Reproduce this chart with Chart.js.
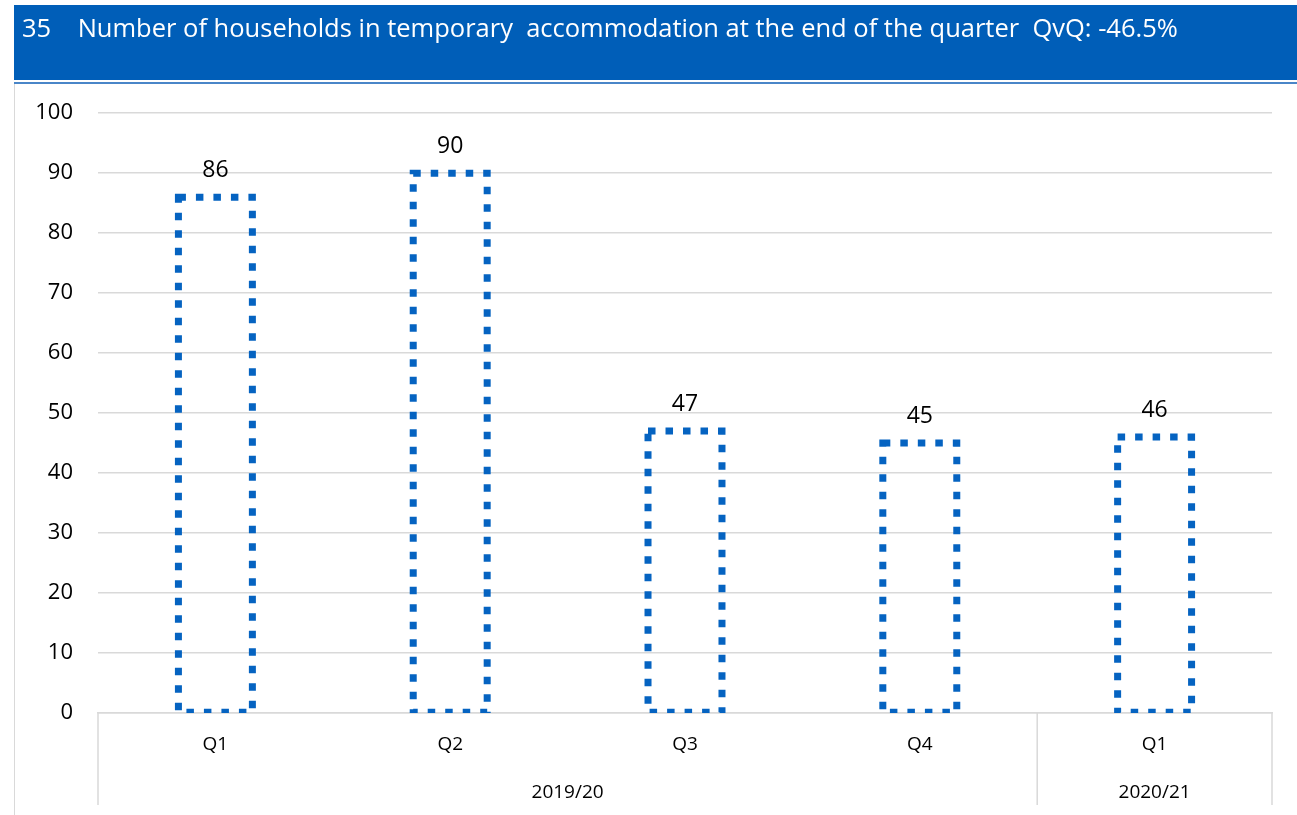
<!DOCTYPE html>
<html>
<head>
<meta charset="utf-8">
<script src="https://cdn.jsdelivr.net/npm/chart.js@4/dist/chart.umd.min.js"></script>
<style>
  body { margin: 0; background: #fff; font-family: "Open Sans", sans-serif; }
  #head { position: absolute; left: 14px; top: 5px; width: 1283px; height: 75px; background: #005eb8;
          border-bottom: 2px solid #fff; box-shadow: 0 2px 0 #4a86c8; z-index: 2; }
  #head span { position: absolute; left: 8px; top: 5px; color: #fff; font-size: 25.5px; white-space: pre; }
  #edge { position: absolute; left: 14px; top: 84px; width: 0; height: 731px; border-left: 1px solid #d9d9d9; }
  #wrap { position: absolute; left: 15px; top: 75px; width: 1282px; height: 740px; }
</style>
</head>
<body>
<div id="head"><span>35    Number of households in temporary  accommodation at the end of the quarter  QvQ: -46.5%</span></div>
<div id="edge"></div>
<div id="wrap"><canvas id="canvas"></canvas></div>
<script>
    var quarters = ["Q1", "Q2", "Q3", "Q4", "Q1"];
    var households = [86, 90, 47, 45, 46];
    var years = ["2019/20", "2020/21"];
    var yearSpans = [4, 1];
    var yTicks = [0, 10, 20, 30, 40, 50, 60, 70, 80, 90, 100];

    var blue = '#0563c1';
    var grey = '#d9d9d9';

    // dotted outline of each bar + value on top
    var dottedBars = {
        id: 'dottedBars',
        afterDatasetsDraw: function(chart) {
            var ctx = chart.ctx, area = chart.chartArea;
            var meta = chart.getDatasetMeta(0);
            ctx.save();
            ctx.beginPath();
            ctx.rect(area.left, 0, area.right - area.left, area.bottom);
            ctx.clip();
            ctx.strokeStyle = blue;
            ctx.lineWidth = 7;
            ctx.setLineDash([7.5, 10]);
            meta.data.forEach(function(bar) {
                var w = bar.width;
                ctx.strokeRect(bar.x - w / 2, bar.y, w, bar.base - bar.y);
            });
            ctx.restore();
            ctx.save();
            ctx.fillStyle = '#000';
            ctx.font = '23px "Open Sans"';
            ctx.textAlign = 'center';
            ctx.textBaseline = 'bottom';
            meta.data.forEach(function(bar, i) {
                ctx.fillText(households[i], bar.x, bar.y - 15);
            });
            ctx.restore();
        }
    };

    // second level of category axis: years with separators
    var yearAxis = {
        id: 'yearAxis',
        afterDraw: function(chart) {
            var ctx = chart.ctx, x = chart.scales.x, area = chart.chartArea;
            var step = x.width / quarters.length;
            var bottom = chart.height - 10;
            ctx.save();
            ctx.strokeStyle = grey;
            ctx.lineWidth = 1.5;
            ctx.fillStyle = '#000';
            ctx.font = '19px "Open Sans"';
            ctx.textAlign = 'center';
            ctx.textBaseline = 'middle';
            var start = 0;
            var edges = [x.getPixelForValue(0) - step / 2];
            years.forEach(function(yr, g) {
                var end = start + yearSpans[g] - 1;
                var l = x.getPixelForValue(start) - step / 2;
                var r = x.getPixelForValue(end) + step / 2;
                edges.push(r);
                ctx.fillText(yr, (l + r) / 2, area.bottom + 80);
                start = end + 1;
            });
            edges.forEach(function(px) {
                ctx.beginPath();
                ctx.moveTo(px, area.bottom);
                ctx.lineTo(px, bottom);
                ctx.stroke();
            });
            ctx.restore();
        }
    };

    var config = {
        type: 'bar',
        data: {
            labels: quarters,
            datasets: [{
                label: 'Households',
                data: households,
                backgroundColor: 'rgba(0,0,0,0)',
                borderWidth: 0,
                barPercentage: 0.315,
                categoryPercentage: 1
            }]
        },
        options: {
            responsive: true,
            maintainAspectRatio: false,
            animation: false,
            layout: { padding: { left: 0, right: 25, top: 15, bottom: 0 } },
            plugins: { legend: { display: false }, tooltip: { enabled: false } },
            scales: {
                x: {
                    grid: { display: false },
                    border: { display: true, color: grey, width: 1.5 },
                    ticks: { color: '#000', font: { family: 'Open Sans', size: 19 }, padding: 12, maxRotation: 0 },
                    afterFit: function(s) { s.height = 102; }
                },
                y: {
                    min: 0, max: 100,
                    afterBuildTicks: function(s) { s.ticks = yTicks.map(function(v) { return { value: v }; }); },
                    grid: { color: grey, lineWidth: 1.5, drawTicks: false },
                    border: { display: false },
                    ticks: { color: '#000', font: { family: 'Open Sans', size: 22 }, padding: 25 },
                    afterFit: function(s) { s.width = 83; }
                }
            }
        },
        plugins: [dottedBars, yearAxis]
    };
    window.onload = function() {
        window.myBar = new Chart(document.getElementById("canvas"), config);};
</script>
</body>
</html>
